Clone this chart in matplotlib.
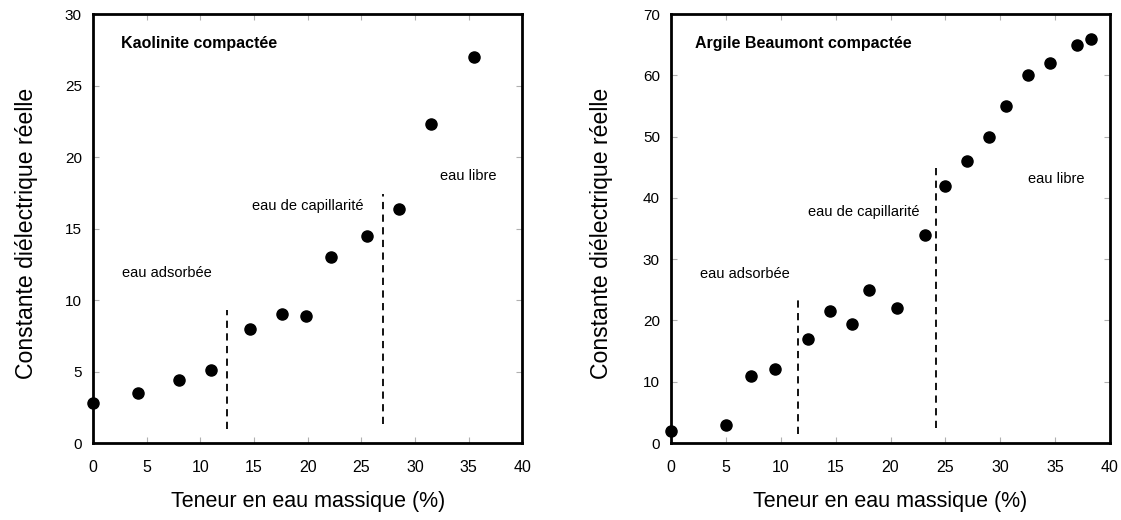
import matplotlib.pyplot as plt

plt.rcParams['font.family'] = ['Liberation Sans', 'DejaVu Sans']

# Kaolinite compactée
kao_teneur = [0, 4.2, 8.0, 11.0, 14.6, 17.6, 19.8, 22.2, 25.5, 28.5, 31.5, 35.5]
kao_const = [2.8, 3.5, 4.4, 5.1, 8.0, 9.0, 8.9, 13.0, 14.5, 16.4, 22.3, 27.0]
kao_limites = [(12.5, 1.0, 9.3), (27.0, 1.3, 17.4)]

# Argile Beaumont compactée
arg_teneur = [0, 5.0, 7.3, 9.5, 12.5, 14.5, 16.5, 18.0, 20.6, 23.1, 25.0, 27.0,
              29.0, 30.5, 32.5, 34.5, 37.0, 38.3]
arg_const = [2.0, 3.0, 11.0, 12.0, 17.0, 21.5, 19.5, 25.0, 22.0, 34.0, 42.0, 46.0,
             50.0, 55.0, 60.0, 62.0, 65.0, 66.0]
arg_limites = [(11.6, 1.5, 24.0), (24.1, 2.5, 45.0)]

fig = plt.figure(figsize=(11.21, 5.2), dpi=100)
ax1 = fig.add_axes([0.083, 0.148, 0.383, 0.825])
ax2 = fig.add_axes([0.5986, 0.148, 0.3916, 0.825])


def panneau(ax, x, y, limites, ymax, ystep, titre, textes, xlab):
    ax.plot(x, y, 'o', color='black', markersize=8, clip_on=False, zorder=5)
    for xv, y0, y1 in limites:
        ax.plot([xv, xv], [y0, y1], color='black', linestyle=(0, (4, 3)), linewidth=1.3)
    ax.set_xlim(0, 40)
    ax.set_ylim(0, ymax)
    ax.set_xticks(range(0, 41, 5))
    ax.set_yticks(range(0, ymax + 1, ystep))
    for s in ax.spines.values():
        s.set_linewidth(2)
    ax.tick_params(axis='both', direction='in', length=4, width=0.8, color='#b0b0b0',
                   top=True, right=True, labelsize=11)
    ax.tick_params(axis='x', pad=12, labelsize=11.5)
    ax.tick_params(axis='y', pad=8)
    ax.set_xlabel("Teneur en eau massique (%)", fontsize=15.5, labelpad=12)
    ax.set_ylabel("Constante diélectrique réelle", fontsize=16.6)
    ax.yaxis.set_label_coords(xlab, 0.488)
    ax.text(titre[0], titre[1], titre[2], fontsize=11.5, fontweight='bold')
    for tx, ty, t in textes:
        ax.text(tx, ty, t, fontsize=10.5)


panneau(ax1, kao_teneur, kao_const, kao_limites, 30, 5,
        (2.6, 27.6, "Kaolinite compactée"),
        [(2.7, 11.6, "eau adsorbée"), (14.8, 16.3, "eau de capillarité"),
         (32.3, 18.4, "eau libre")], -0.128)
panneau(ax2, arg_teneur, arg_const, arg_limites, 70, 10,
        (2.2, 64.4, "Argile Beaumont compactée"),
        [(2.6, 27.0, "eau adsorbée"), (12.5, 37.0, "eau de capillarité"),
         (32.5, 42.5, "eau libre")], -0.132)

fig.savefig("out.png", dpi=100)
